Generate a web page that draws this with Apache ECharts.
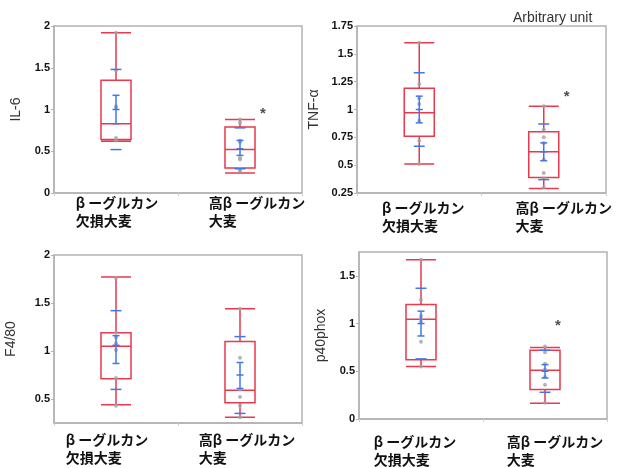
<!DOCTYPE html>
<html>
<head>
<meta charset="utf-8">
<script src="https://cdn.jsdelivr.net/npm/echarts@6/dist/echarts.min.js"></script>
<style>
  html, body { margin: 0; padding: 0; background: #fff; }
  #chart { width: 623px; height: 468px; }
</style>
</head>
<body>
<div id="chart"></div>
<script>
// categories
const categories = ['β ーグルカン\n欠損大麦', '高β ーグルカン\n大麦']

// box: [min, Q1, median, Q3, max]
// stats: [mean, seLow, seHigh, sdLow, sdHigh]
const il6Box = [[0.62, 0.64, 0.83, 1.35, 1.92], [0.24, 0.30, 0.52, 0.79, 0.88]]
const il6Stats = [[1.00, 0.83, 1.17, 0.52, 1.48], [0.53, 0.45, 0.63, 0.29, 0.78]]
const il6Points = [[1.92, 1.47, 1.04, 1.02, 0.66, 0.63], [0.88, 0.84, 0.63, 0.61, 0.42, 0.40, 0.29, 0.26]]

const tnfBox = [[0.51, 0.76, 0.97, 1.19, 1.60], [0.29, 0.39, 0.62, 0.80, 1.03]]
const tnfStats = [[1.00, 0.88, 1.12, 0.67, 1.33], [0.62, 0.54, 0.70, 0.37, 0.87]]
const tnfPoints = [[1.60, 1.23, 1.10, 1.05, 0.90, 0.72, 0.51], [1.03, 0.82, 0.75, 0.70, 0.55, 0.43, 0.38, 0.30]]

const f480Box = [[0.44, 0.71, 1.05, 1.19, 1.77], [0.31, 0.46, 0.59, 1.10, 1.44]]
const f480Stats = [[1.06, 0.87, 1.16, 0.60, 1.42], [0.75, 0.61, 0.88, 0.35, 1.15]]
const f480Points = [[1.76, 1.19, 1.14, 1.08, 1.01, 0.72, 0.43], [1.44, 0.93, 0.60, 0.52, 0.43, 0.31]]

const p40Box = [[0.55, 0.62, 1.045, 1.20, 1.67], [0.165, 0.31, 0.51, 0.72, 0.75]]
const p40Stats = [[1.00, 0.87, 1.13, 0.63, 1.37], [0.50, 0.43, 0.57, 0.28, 0.72]]
const p40Points = [[1.67, 1.25, 1.08, 1.05, 1.02, 0.81, 0.55], [0.76, 0.70, 0.58, 0.52, 0.44, 0.36, 0.17]]

// tick labels
const il6Ticks = [0, 0.5, 1, 1.5, 2]
const tnfTicks = [0.25, 0.5, 0.75, 1, 1.25, 1.5, 1.75]
const f480Ticks = [0.5, 1, 1.5, 2]
const p40Ticks = [0, 0.5, 1, 1.5]

// significance marks: [category, value]
const il6Star = [1, 0.95]
const tnfStar = [1, 1.11]
const p40Star = [1, 0.98]

const RED = '#e8394f'
const BLUE = '#3f78ec'
const GRAY_DOT = '#a3a3a3'
const AXIS_GRAY = '#b3b3b3'

// labelShift: horizontal nudge of each category label, labelMargin: gap under the plot
const panels = [
  { name: 'IL-6', box: il6Box, stats: il6Stats, points: il6Points, ticks: il6Ticks, min: 0, max: 2, star: il6Star, starOffset: 23,
    grid: { left: 54, top: 26, width: 248, height: 167 }, nameGap: 31, labelShift: [1, 17], labelMargin: 1 },
  { name: 'TNF-α', box: tnfBox, stats: tnfStats, points: tnfPoints, ticks: tnfTicks, min: 0.25, max: 1.75, star: tnfStar, starOffset: 23,
    grid: { left: 357, top: 26, width: 249, height: 167 }, nameGap: 36, labelShift: [4, 20], labelMargin: 6 },
  { name: 'F4/80', box: f480Box, stats: f480Stats, points: f480Points, ticks: f480Ticks, min: 0.25, max: 2, star: null,
    grid: { left: 54, top: 255, width: 248, height: 168 }, nameGap: 36, labelShift: [-9, 7], labelMargin: 8 },
  { name: 'p40phox', box: p40Box, stats: p40Stats, points: p40Points, ticks: p40Ticks, min: 0, max: 1.75, star: p40Star, starOffset: 13,
    grid: { left: 359, top: 252, width: 248, height: 167 }, nameGap: 31, labelShift: [-6, 10], labelMargin: 14 }
]

const catStyle = (shift) => ({
  align: 'left', fontSize: 14, fontWeight: 'bold', lineHeight: 18, color: '#111',
  fontFamily: '"Noto Sans CJK JP", sans-serif',
  padding: shift >= 0 ? [0, 0, 0, 2 * shift] : [0, -2 * shift, 0, 0]
})

const catLabel = (v, idx) => v.split('\n').map((s) => '{c' + idx + '|' + s + '}').join('\n')

// blue mean / error bars
const renderStats = (params, api) => {
  const cat = api.value(0)
  const mean = api.coord([cat, api.value(1)])
  const seLo = api.coord([cat, api.value(2)])
  const seHi = api.coord([cat, api.value(3)])
  const sdLo = api.coord([cat, api.value(4)])
  const sdHi = api.coord([cat, api.value(5)])
  const x = mean[0]
  const style = { stroke: BLUE, lineWidth: 1.5 }
  const hline = (y, half) => ({ type: 'line', shape: { x1: x - half, y1: y, x2: x + half, y2: y }, style })
  return {
    type: 'group',
    children: [
      { type: 'line', shape: { x1: x, y1: seLo[1], x2: x, y2: seHi[1] }, style },
      hline(seLo[1], 3.5),
      hline(seHi[1], 3.5),
      hline(mean[1], 3.5),
      hline(sdLo[1], 5.5),
      hline(sdHi[1], 5.5)
    ]
  }
}

const grids = []
const xAxes = []
const yAxes = []
const series = []

panels.forEach((p, i) => {
  grids.push(Object.assign({ show: true, borderColor: AXIS_GRAY, borderWidth: 1.5, backgroundColor: '#fff' }, p.grid))
  xAxes.push({
    type: 'category',
    gridIndex: i,
    data: categories,
    boundaryGap: true,
    axisLine: { lineStyle: { color: AXIS_GRAY, width: 1.5 } },
    axisTick: { show: true, length: 3, lineStyle: { color: '#cfcfcf' } },
    axisLabel: {
      interval: 0,
      hideOverlap: false,
      margin: p.labelMargin,
      formatter: catLabel,
      rich: { c0: catStyle(p.labelShift[0]), c1: catStyle(p.labelShift[1]) }
    }
  })
  yAxes.push({
    type: 'value',
    gridIndex: i,
    min: p.min,
    max: p.max,
    name: p.name,
    nameLocation: 'middle',
    nameGap: p.nameGap,
    nameRotate: 90,
    nameTextStyle: { fontSize: 14, color: '#333', fontFamily: '"Liberation Sans", Arial, sans-serif' },
    splitLine: { show: false },
    axisLine: { show: true, lineStyle: { color: AXIS_GRAY, width: 1.5 } },
    axisTick: { show: true, length: 3, customValues: p.ticks, lineStyle: { color: AXIS_GRAY } },
    axisLabel: {
      customValues: p.ticks,
      margin: 4,
      fontSize: 11,
      fontWeight: 'bold',
      color: '#111',
      fontFamily: '"Liberation Sans Narrow", "Liberation Sans", Arial, sans-serif'
    }
  })
  series.push({
    type: 'boxplot',
    xAxisIndex: i,
    yAxisIndex: i,
    boxWidth: [30, 30],
    itemStyle: { color: 'rgba(0,0,0,0)', borderColor: RED, borderWidth: 1.5 },
    emphasis: { disabled: true },
    data: p.box
  })
  series.push({
    type: 'scatter',
    xAxisIndex: i,
    yAxisIndex: i,
    symbolSize: 4,
    itemStyle: { color: GRAY_DOT },
    z: 3,
    data: p.points.flatMap((vals, c) => vals.map((v) => [c, v]))
  })
  series.push({
    type: 'custom',
    xAxisIndex: i,
    yAxisIndex: i,
    z: 4,
    renderItem: renderStats,
    data: p.stats.map((s, c) => [c].concat(s))
  })
  if (p.star) {
    series.push({
      type: 'scatter',
      xAxisIndex: i,
      yAxisIndex: i,
      symbolSize: 0,
      label: {
        show: true,
        formatter: '*',
        offset: [p.starOffset, 0],
        fontSize: 15,
        fontWeight: 'bold',
        color: '#222'
      },
      data: [p.star]
    })
  }
})

const myEchart = echarts.init(document.getElementById('chart'))
myEchart.setOption({
  animation: false,
  title: {
    text: 'Arbitrary unit',
    left: 508,
    top: 6,
    textStyle: { fontSize: 14, fontWeight: 'normal', color: '#333', fontFamily: '"Liberation Sans", Arial, sans-serif' }
  },
  grid: grids,
  xAxis: xAxes,
  yAxis: yAxes,
  series: series
})
</script>
</body>
</html>
